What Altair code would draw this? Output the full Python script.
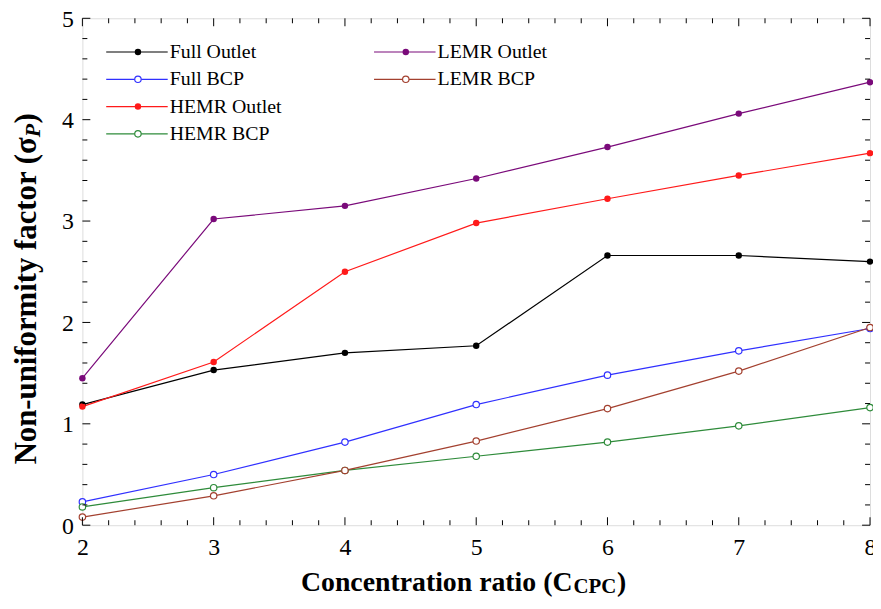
import altair as alt
import pandas as pd

# ---------------- data ----------------
C = [2, 3, 4, 5, 6, 7, 8]
full_outlet = [1.19, 1.53, 1.70, 1.77, 2.66, 2.66, 2.60]
full_bcp = [0.23, 0.50, 0.82, 1.19, 1.48, 1.72, 1.94]
hemr_outlet = [1.17, 1.61, 2.50, 2.98, 3.22, 3.45, 3.67]
hemr_bcp = [0.18, 0.37, 0.54, 0.68, 0.82, 0.98, 1.16]
lemr_outlet = [1.45, 3.02, 3.15, 3.42, 3.73, 4.06, 4.37]
lemr_bcp = [0.08, 0.29, 0.54, 0.83, 1.15, 1.52, 1.95]

series_names = ["Full Outlet", "Full BCP", "HEMR Outlet", "HEMR BCP", "LEMR Outlet", "LEMR BCP"]
series_values = [full_outlet, full_bcp, hemr_outlet, hemr_bcp, lemr_outlet, lemr_bcp]
series_colors = ["#000000", "#3030ff", "#ff1a1a", "#2e8b3a", "#7a0a7a", "#a3402f"]

x_major = [2, 3, 4, 5, 6, 7, 8]
x_minor = [round(2 + 0.2 * i, 1) for i in range(31) if i % 5 != 0]
y_major = [0, 1, 2, 3, 4, 5]
y_minor = [round(0.2 * i, 1) for i in range(26) if i % 5 != 0]

# legend layout (col 1: first four, col 2: LEMR)
legend_col = [0, 0, 0, 0, 1, 1]
legend_row = [0, 1, 2, 3, 0, 1]

W, H = 794, 511
FONT = "Liberation Serif"

rows = []
for name, vals in zip(series_names, series_values):
    for c, v in zip(C, vals):
        rows.append({"C": c, "v": v, "series": name,
                     "kind": "Outlet" if "Outlet" in name else "BCP"})
df = pd.DataFrame(rows)

color = alt.Color("series:N", scale=alt.Scale(domain=series_names, range=series_colors), legend=None)
xs = alt.Scale(domain=[2, 8], nice=False, zero=False)
ys = alt.Scale(domain=[0, 5], nice=False, zero=False)
x_axis = alt.Axis(values=x_major, ticks=False, domain=False, grid=False, title="",
                  labelFont=FONT, labelFontSize=24, labelColor="black",
                  labelPadding=11, labelFlush=False, format="d")
y_axis = alt.Axis(values=y_major, ticks=False, domain=False, grid=False, title="",
                  labelFont=FONT, labelFontSize=24, labelColor="black",
                  labelPadding=9, labelFlush=False, labelOffset=1, format="d")

X = alt.X("C:Q", scale=xs, axis=x_axis)
Y = alt.Y("v:Q", scale=ys, axis=y_axis)

lines = alt.Chart(df).mark_line(strokeWidth=1.2).encode(x=X, y=Y, color=color, detail="series:N")
pts_filled = alt.Chart(df).transform_filter("datum.kind == 'Outlet'").mark_point(
    filled=True, size=42, opacity=1).encode(x=X, y=Y, color=color)
pts_open = alt.Chart(df).transform_filter("datum.kind == 'BCP'").mark_point(
    filled=False, fill="white", size=42, strokeWidth=1.2, opacity=1).encode(x=X, y=Y, color=color)

# tick marks drawn inward on all four sides
def xticks(vals, y0, y1):
    return alt.Chart(pd.DataFrame({"C": vals})).mark_rule(color="black", strokeWidth=1).encode(
        x=X, y=alt.value(y0), y2=alt.value(y1))

def yticks(vals, x0, x1):
    return alt.Chart(pd.DataFrame({"v": vals})).mark_rule(color="black", strokeWidth=1).encode(
        y=Y, x=alt.value(x0), x2=alt.value(x1))

MAJ, MIN = 8, 5
tick_layers = [
    xticks(x_major, H, H - MAJ), xticks(x_minor, H, H - MIN),
    xticks(x_major, 0, MAJ), xticks(x_minor, 0, MIN),
    yticks(y_major, 0, MAJ), yticks(y_minor, 0, MIN),
    yticks(y_major, W, W - MAJ), yticks(y_minor, W, W - MIN),
]

# manual legend
leg_rows = []
for name, col, r in zip(series_names, legend_col, legend_row):
    base = 24 if col == 0 else 294
    leg_rows.append({"series": name, "kind": "Outlet" if "Outlet" in name else "BCP",
                     "lx0": base, "lx1": base + 62, "px": base + 32, "tx": base + 64,
                     "ly": 34 + 27.5 * r})
leg = pd.DataFrame(leg_rows)
LX0 = alt.X("lx0:Q", scale=None, axis=None)
LY = alt.Y("ly:Q", scale=None, axis=None)
leg_lines = alt.Chart(leg).mark_rule(strokeWidth=1.2).encode(x=LX0, x2="lx1:Q", y=LY, color=color)
leg_pf = alt.Chart(leg).transform_filter("datum.kind == 'Outlet'").mark_point(
    filled=True, size=42, opacity=1).encode(x=alt.X("px:Q", scale=None, axis=None), y=LY, color=color)
leg_po = alt.Chart(leg).transform_filter("datum.kind == 'BCP'").mark_point(
    filled=False, fill="white", size=42, strokeWidth=1.2, opacity=1).encode(
    x=alt.X("px:Q", scale=None, axis=None), y=LY, color=color)
leg_text = alt.Chart(leg).mark_text(align="left", baseline="middle", font=FONT, fontSize=20,
                                    color="black").encode(
    x=alt.X("tx:Q", scale=None, axis=None), y=LY, text="series:N")

# axis titles with subscripts, as text pieces
def txt(t, x, y, size, angle=0, align="left", italic=False, baseline="alphabetic"):
    kw = dict(align=align, baseline=baseline, font=FONT, fontSize=size, fontWeight="bold",
              color="black", angle=angle)
    if italic:
        kw["fontStyle"] = "italic"
    return alt.Chart(pd.DataFrame({"t": [t], "x": [x], "y": [y]})).mark_text(**kw).encode(
        x=alt.X("x:Q", scale=None, axis=None), y=alt.Y("y:Q", scale=None, axis=None), text="t:N")

xa = 494
xt = [
    txt("Concentration ratio (C", xa, 577, 28, align="right"),
    txt("CPC", xa + 1, 579, 21),
    txt(")", xa + 45, 577, 28),
]
ya = 120
yx = -47
yt = [
    txt("Non-uniformity factor (\u03c3", yx, ya, 31, angle=270, align="right"),
    txt("P", yx + 4, ya, 22, angle=270, italic=True),
    txt(")", yx, ya - 14, 31, angle=270),
]

chart = alt.layer(
    lines, pts_filled, pts_open, *tick_layers,
    leg_lines, leg_pf, leg_po, leg_text, *xt, *yt
).properties(
    width=W, height=H,
    autosize=alt.AutoSizeParams(type="none"),
    padding={"left": 75, "top": 8, "right": 3, "bottom": 70},
).configure_view(stroke="black", strokeWidth=1.3).configure_axis(
    labelFont=FONT, labelFontSize=24, labelColor="black"
).configure(background="white")

chart.save("out.html", embed_options={"renderer": "svg", "actions": False})
